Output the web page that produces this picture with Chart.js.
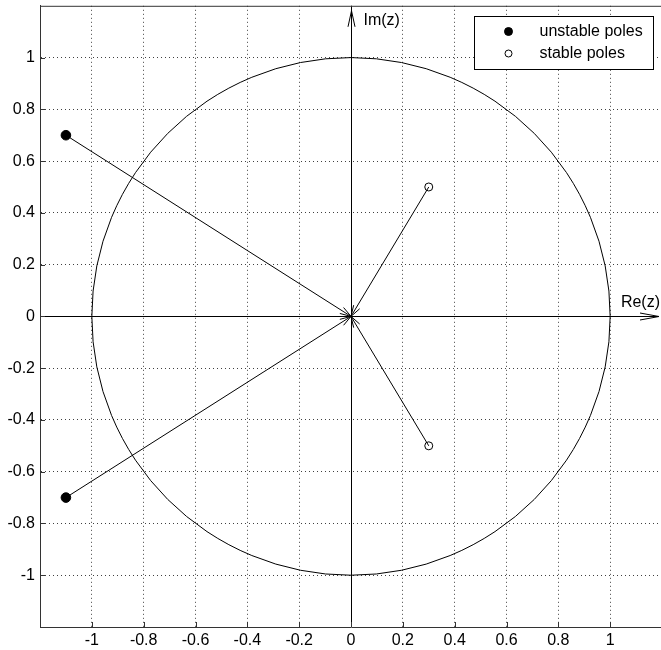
<!DOCTYPE html>
<html><head><meta charset="utf-8">
<script src="https://cdn.jsdelivr.net/npm/chart.js@4/dist/chart.umd.min.js"></script>
<style>
html,body{margin:0;padding:0;background:#fff;overflow:hidden}
#wrap{width:661px;height:650px;overflow:hidden;position:relative}
canvas{display:block}
</style></head><body>
<div id="wrap"><canvas id="c" width="670" height="650" style="width:670px;height:650px"></canvas></div>
<script>
// ---- data ----
const unstableRe = [-1.1, -1.1];
const unstableIm = [0.7, -0.7];
const stableRe = [0.3, 0.3];
const stableIm = [0.5, -0.5];
const tickValues = [-1, -0.8, -0.6, -0.4, -0.2, 0, 0.2, 0.4, 0.6, 0.8, 1];
const axisMin = -1.2;
const axisMax = 1.2;
const unitRadius = 1;
const legendLabels = ['unstable poles', 'stable poles'];
const axisNames = ['Re(z)', 'Im(z)'];

const FONT = '"Liberation Sans", Arial, Helvetica, sans-serif';

function lineTo0(re, im) { return [{x: re, y: im}, {x: 0, y: 0}]; }
const poleLines = [];
unstableRe.forEach((r, i) => poleLines.push({type: 'line', data: lineTo0(r, unstableIm[i]), borderColor: '#000', borderWidth: 1, pointRadius: 0, showLine: true, fill: false, isArrow: true}));
stableRe.forEach((r, i) => poleLines.push({type: 'line', data: lineTo0(r, stableIm[i]), borderColor: '#000', borderWidth: 1, pointRadius: 0, showLine: true, fill: false, isArrow: true}));

const unstableSet = {label: legendLabels[0], data: unstableRe.map((r, i) => ({x: r, y: unstableIm[i]})), pointRadius: 4.8, pointBackgroundColor: '#000', pointBorderColor: '#000', borderWidth: 1, showLine: false};
const stableSet = {label: legendLabels[1], data: stableRe.map((r, i) => ({x: r, y: stableIm[i]})), pointRadius: 4, pointBackgroundColor: '#fff', pointBorderColor: '#000', pointBorderWidth: 1, borderWidth: 1, showLine: false};

function arrowHead(ctx, tx, ty, fx, fy, len, half) {
  const a = Math.atan2(ty - fy, tx - fx);
  const bx = tx - len * Math.cos(a), by = ty - len * Math.sin(a);
  const px = -Math.sin(a) * half, py = Math.cos(a) * half;
  ctx.beginPath();
  ctx.moveTo(bx + px, by + py); ctx.lineTo(tx, ty); ctx.lineTo(bx - px, by - py);
  ctx.stroke();
}

const decor = {
  id: 'decor',
  beforeDatasetsDraw(chart) {
    const {ctx, chartArea: ca, scales: {x, y}} = chart;
    ctx.save();
    ctx.strokeStyle = '#000'; ctx.lineWidth = 1;
    const cx = x.getPixelForValue(0), cy = y.getPixelForValue(0);
    const rx = x.getPixelForValue(unitRadius) - cx, ry = cy - y.getPixelForValue(unitRadius);
    ctx.beginPath(); ctx.ellipse(cx, cy, rx, ry, 0, 0, Math.PI * 2); ctx.stroke();
    ctx.beginPath();
    ctx.moveTo(Math.round(cx) + 0.5, ca.bottom); ctx.lineTo(Math.round(cx) + 0.5, ca.top);
    ctx.moveTo(ca.left, Math.round(cy) + 0.5); ctx.lineTo(x.getPixelForValue(axisMax) - 3, Math.round(cy) + 0.5);
    ctx.stroke();
    ctx.strokeStyle = '#333';
    ctx.beginPath(); ctx.moveTo(ca.left, ca.top + 0.5); ctx.lineTo(ca.right, ca.top + 0.5); ctx.stroke();
    ctx.beginPath();
    tickValues.forEach(v => {
      const px = Math.round(x.getPixelForValue(v)) + 0.5;
      ctx.moveTo(px, ca.bottom); ctx.lineTo(px, ca.bottom - 5);
      const py = Math.round(y.getPixelForValue(v)) + 0.5;
      ctx.moveTo(ca.left, py); ctx.lineTo(ca.left + 5, py);
    });
    ctx.stroke();
    ctx.restore();
  },
  afterDatasetsDraw(chart) {
    const {ctx, chartArea: ca, scales: {x, y}} = chart;
    ctx.save();
    ctx.strokeStyle = '#000'; ctx.lineWidth = 1;
    chart.data.datasets.forEach((ds, i) => {
      if (!ds.isArrow) return;
      const pts = chart.getDatasetMeta(i).data;
      arrowHead(ctx, pts[1].x, pts[1].y, pts[0].x, pts[0].y, 11, 3.5);
    });
    const cx = Math.round(x.getPixelForValue(0)) + 0.5, cy = Math.round(y.getPixelForValue(0)) + 0.5;
    arrowHead(ctx, cx, ca.top + 5, cx, ca.bottom, 16, 3.5);
    arrowHead(ctx, x.getPixelForValue(axisMax) - 3, cy, ca.left, cy, 19, 3.5);
    ctx.fillStyle = '#000';
    ctx.font = '16px ' + FONT;
    ctx.textBaseline = 'middle'; ctx.textAlign = 'left';
    ctx.fillText(axisNames[1], cx + 12, ca.top + 15);
    ctx.textAlign = 'right';
    ctx.fillText(axisNames[0], x.getPixelForValue(axisMax) - 2, cy - 14);
    ctx.textAlign = 'left';
    // legend box
    const lx = Math.round(x.getPixelForValue(0.476)) + 0.5, ly = Math.round(y.getPixelForValue(1.162)) + 0.5;
    const lw = 179, lh = 53;
    ctx.fillStyle = '#fff';
    ctx.fillRect(lx, ly, lw, lh);
    ctx.strokeStyle = '#000';
    ctx.strokeRect(lx, ly, lw, lh);
    const sets = [unstableSet, stableSet];
    sets.forEach((s, i) => {
      const rowY = ly + 15 + i * 22;
      ctx.beginPath(); ctx.arc(lx + 34, rowY, i === 0 ? 4 : 3.5, 0, Math.PI * 2);
      ctx.fillStyle = s.pointBackgroundColor; ctx.fill();
      ctx.strokeStyle = '#000'; ctx.stroke();
      ctx.fillStyle = '#000';
      ctx.fillText(s.label, lx + 65, rowY);
    });
    ctx.restore();
  }
};

new Chart(document.getElementById('c'), {
  type: 'scatter',
  data: {datasets: [...poleLines, unstableSet, stableSet]},
  options: {
    responsive: false, animation: false, devicePixelRatio: 1,
    layout: {padding: {top: 5, right: 8, left: 0, bottom: 0}},
    plugins: {legend: {display: false}, tooltip: {enabled: false}},
    scales: {
      x: {
        type: 'linear', min: axisMin, max: axisMax,
        afterBuildTicks: s => { s.ticks = tickValues.map(v => ({value: v})); },
        afterFit: s => { s.height = 23; s.paddingLeft = 0; s.paddingRight = 0; },
        grid: {color: 'rgba(0,0,0,0.75)', lineWidth: 1, drawTicks: false},
        border: {display: true, color: '#333', width: 1, dash: [1, 3]},
        ticks: {padding: 4, color: '#000', font: {family: FONT, size: 16}, callback: v => String(Math.round(v * 10) / 10), maxRotation: 0, autoSkip: false}
      },
      y: {
        type: 'linear', min: axisMin, max: axisMax,
        afterBuildTicks: s => { s.ticks = tickValues.map(v => ({value: v})); },
        afterFit: s => { s.width = 40; s.paddingTop = 0; s.paddingBottom = 0; },
        grid: {color: 'rgba(0,0,0,0.75)', lineWidth: 1, drawTicks: false},
        border: {display: true, color: '#333', width: 1, dash: [1, 3]},
        ticks: {padding: 5, color: '#000', font: {family: FONT, size: 16}, callback: v => String(Math.round(v * 10) / 10), autoSkip: false}
      }
    }
  },
  plugins: [decor]
});
</script>
</body></html>
